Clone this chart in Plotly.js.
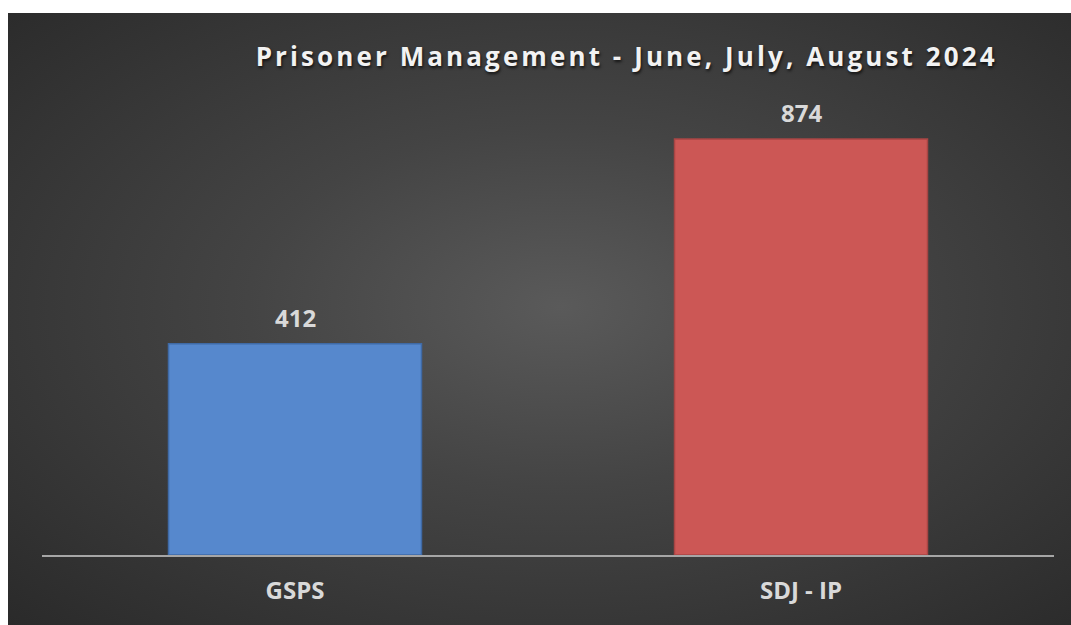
<!DOCTYPE html>
<html>
<head>
<meta charset="utf-8">
<script src="https://cdn.plot.ly/plotly-3.0.1.min.js"></script>
<style>
  html, body { margin: 0; padding: 0; background: #ffffff; overflow: hidden; }
  #chart {
    position: absolute; left: 8px; top: 13px; width: 1063px; height: 612px;
    background: radial-gradient(ellipse at 52% 48%, #5a5a5a 0%, #444444 40%, #2a2a2a 100%);
  }
  .gtitle { letter-spacing: 3.1px; }
</style>
</head>
<body>
<div id="chart"></div>
<script>
const categories = ["GSPS", "SDJ - IP"];
const values = [412, 874];
const barColors = ["#5688cd", "#cc5755"];
const barLineColors = ["#3f6aa6", "#a84544"];
const titleText = "Prisoner Management - June, July, August 2024";
const AXIS_MIN = -64;

const trace = {
  type: "bar",
  x: categories,
  y: values.map(v => v - AXIS_MIN),
  base: AXIS_MIN,
  width: 0.5,
  marker: { color: barColors, line: { color: barLineColors, width: 1.5 } },
  hoverinfo: "skip"
};

const annotations = categories.map((c, i) => ({
  x: c, y: values[i], xref: "x", yref: "y",
  text: String(values[i]), showarrow: false,
  yanchor: "bottom", yshift: 8,
  font: { family: "Open Sans", size: 24, weight: 700, color: "#d9d9d9" }
}));

const layout = {
  width: 1063, height: 612,
  margin: { l: 34, r: 17, t: 70, b: 70 },
  paper_bgcolor: "rgba(0,0,0,0)",
  plot_bgcolor: "rgba(0,0,0,0)",
  showlegend: false,
  title: {
    text: titleText,
    x: 0.582, xref: "container", xanchor: "center",
    y: 0.928, yref: "container", yanchor: "middle",
    font: { family: "Open Sans", size: 26, weight: 700, color: "#f2f2f2",
            shadow: "1px 2px 3px rgba(0,0,0,0.7)" }
  },
  xaxis: {
    range: [-0.5, 1.5],
    showline: true, linecolor: "#a6a6a6", linewidth: 2,
    showgrid: false, zeroline: false, ticks: "",
    ticklabelstandoff: 13,
    tickfont: { family: "Open Sans", size: 24, weight: 700, color: "#d9d9d9" }
  },
  yaxis: {
    range: [AXIS_MIN, 1000],
    visible: false, showgrid: false, zeroline: false
  },
  annotations: annotations
};

Plotly.newPlot("chart", [trace], layout, { displayModeBar: false, staticPlot: true });
</script>
</body>
</html>
